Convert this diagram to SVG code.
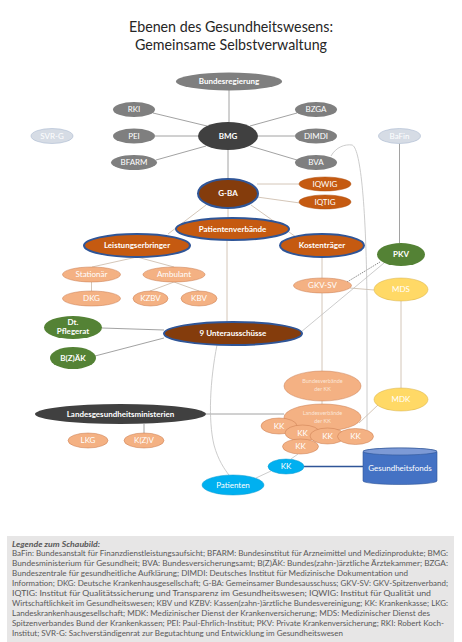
<svg xmlns="http://www.w3.org/2000/svg" width="462" height="642" viewBox="0 0 462 642">
<style>
text{font-family:Lato,"Open Sans","Liberation Sans",sans-serif;}
.t{font-size:8px;fill:#fff;text-anchor:middle;}
.b{font-weight:bold;}
.s{font-size:5.5px;fill:#fbe5d6;text-anchor:middle;}
.gray{fill:#7f7f7f;}
.dark{fill:#404040;}
.lite{fill:#d6dce5;stroke:#a9b8d0;stroke-width:0.6;}
.brown{fill:#843c0c;stroke:#2f5597;stroke-width:2;}
.orB{fill:#c55a11;stroke:#2f5597;stroke-width:2;}
.or{fill:#c55a11;stroke:#ae4f0f;stroke-width:0.5;}
.sal{fill:#f4b183;stroke:#c97a4e;stroke-width:0.5;}
.green{fill:#548235;}
.yel{fill:#ffd966;stroke:#d6b04a;stroke-width:0.5;}
.blue{fill:#00b0f0;stroke:#0a98cf;stroke-width:0.5;}
.cg{stroke:#8a8a8a;stroke-width:0.8;fill:none;}
.ct{stroke:#c9b8a6;stroke-width:0.8;fill:none;}
.cl{stroke:#bfbfbf;stroke-width:0.8;fill:none;}
.leg{font-size:7.6px;fill:#595959;}
</style>
<rect width="462" height="642" fill="#fff"/>
<g id="title">
<text x="231" y="32" font-size="16" text-anchor="middle" fill="#262626" textLength="204" lengthAdjust="spacingAndGlyphs">Ebenen des Gesundheitswesens:</text>
<text x="231" y="50" font-size="16" text-anchor="middle" fill="#262626" textLength="192" lengthAdjust="spacingAndGlyphs">Gemeinsame Selbstverwaltung</text>
</g>
<g id="connectors">
<line class="cg" x1="229" y1="90" x2="229" y2="122"/>
<line class="cg" x1="207" y1="126" x2="153" y2="113"/>
<line class="cg" x1="198" y1="136" x2="155" y2="136"/>
<line class="cg" x1="206" y1="146" x2="156" y2="160"/>
<line class="cg" x1="250" y1="126" x2="297" y2="113"/>
<line class="cg" x1="258" y1="136" x2="295" y2="136"/>
<line class="cg" x1="250" y1="146" x2="297" y2="160"/>
<line class="cg" x1="228" y1="150" x2="228" y2="179"/>
<line class="ct" x1="228" y1="208" x2="228" y2="218"/>
<line class="ct" x1="257" y1="184" x2="299" y2="184"/>
<line class="ct" x1="257" y1="197" x2="300" y2="203"/>
<line class="ct" x1="206" y1="205" x2="168" y2="234"/>
<line class="ct" x1="251" y1="205" x2="296" y2="237"/>
<line class="ct" x1="227" y1="240" x2="227" y2="322"/>
<line class="ct" x1="137" y1="257" x2="92" y2="267"/>
<line class="ct" x1="137" y1="257" x2="174" y2="267"/>
<line class="ct" x1="91.5" y1="282" x2="91.5" y2="291"/>
<line class="ct" x1="174" y1="282" x2="150" y2="291"/>
<line class="ct" x1="174" y1="282" x2="199" y2="291"/>
<line class="ct" x1="322" y1="257" x2="322" y2="278"/>
<line class="ct" x1="322" y1="293" x2="322" y2="371"/>
<line class="ct" x1="322" y1="401" x2="322" y2="404"/>
<line x1="347" y1="282" x2="380" y2="262" stroke="#595959" stroke-width="0.7" stroke-dasharray="1.5,1"/>
<line class="ct" x1="350" y1="288" x2="374" y2="290"/>
<line class="cl" x1="301" y1="332" x2="384" y2="263"/>
<line class="cg" x1="399.5" y1="143.5" x2="399.5" y2="243"/>
<line class="ct" x1="401" y1="301" x2="401" y2="388"/>
<line class="ct" x1="379" y1="404" x2="359" y2="423"/>
<line class="cg" x1="206" y1="414" x2="284" y2="414"/>
<line class="cg" x1="144" y1="424" x2="144" y2="433"/>
<line class="cl" x1="298" y1="454" x2="291" y2="459"/>
<line x1="304" y1="466.5" x2="363" y2="466.5" stroke="#2f5597" stroke-width="1.5"/>
<line class="cl" x1="271" y1="471" x2="256" y2="478"/>
<path class="cl" d="M331,156 C336,147 345,144 352,145 C360,147 366,200 367,300 L367,430"/>
<path class="cl" d="M217,345 C210,380 208,420 214,445 C218,460 225,470 229,475"/>
<line class="cg" x1="102" y1="328" x2="164" y2="330"/>
<line class="cg" x1="95" y1="356" x2="164" y2="338"/>
</g>
<g id="n-bundesregierung"><ellipse class="gray" cx="229" cy="81.5" rx="53" ry="9"/><text class="t b" x="229" y="84.3">Bundesregierung</text></g>
<g id="n-rki"><ellipse class="gray" cx="134" cy="109.5" rx="21" ry="7.5"/><text class="t" x="134" y="112.3">RKI</text></g>
<g id="n-bzga"><ellipse class="gray" cx="316" cy="109.5" rx="21" ry="7.5"/><text class="t" x="316" y="112.3">BZGA</text></g>
<g id="n-pei"><ellipse class="gray" cx="134" cy="136" rx="21" ry="7.5"/><text class="t" x="134" y="138.8">PEI</text></g>
<g id="n-bmg"><ellipse class="dark" cx="228" cy="136" rx="30" ry="14"/><text class="t b" x="228" y="138.8">BMG</text></g>
<g id="n-dimdi"><ellipse class="gray" cx="316" cy="136" rx="21" ry="7.5"/><text class="t" x="316" y="138.8">DIMDI</text></g>
<g id="n-svrg"><ellipse class="lite" cx="52" cy="136" rx="21" ry="7.5"/><text class="t" x="52" y="138.8">SVR-G</text></g>
<g id="n-bafin"><ellipse class="lite" cx="399.5" cy="136" rx="21" ry="7.5"/><text class="t" x="399.5" y="138.8">BaFin</text></g>
<g id="n-bfarm"><ellipse class="gray" cx="134" cy="162.5" rx="23" ry="7.5"/><text class="t" x="134" y="165.3">BFARM</text></g>
<g id="n-bva"><ellipse class="gray" cx="316" cy="162.5" rx="21" ry="7.5"/><text class="t" x="316" y="165.3">BVA</text></g>
<g id="n-gba"><ellipse class="brown" cx="228" cy="193.5" rx="30" ry="14.5"/><text class="t b" x="228" y="196.3">G-BA</text></g>
<g id="n-iqwig"><ellipse class="or" cx="325" cy="184" rx="26" ry="7"/><text class="t" x="325" y="186.8">IQWIG</text></g>
<g id="n-iqtig"><ellipse class="or" cx="325" cy="202" rx="26" ry="7"/><text class="t" x="325" y="204.8">IQTIG</text></g>
<g id="n-patientenverbaende"><ellipse class="orB" cx="232.5" cy="229" rx="56.5" ry="11"/><text class="t b" x="232.5" y="231.8">Patientenverbände</text></g>
<g id="n-leistungserbringer"><ellipse class="orB" cx="137" cy="245.5" rx="53" ry="11.5"/><text class="t b" x="137" y="248.3">Leistungserbringer</text></g>
<g id="n-kostentraeger"><ellipse class="orB" cx="322" cy="245.5" rx="42" ry="11.5"/><text class="t b" x="322" y="248.3">Kostenträger</text></g>
<g id="n-pkv"><ellipse class="green" cx="401" cy="254.5" rx="24" ry="11.5"/><text class="t b" x="401" y="257.3">PKV</text></g>
<g id="n-stationaer"><ellipse class="sal" cx="91.5" cy="274.5" rx="29" ry="7.5"/><text class="t" x="91.5" y="277.3">Stationär</text></g>
<g id="n-ambulant"><ellipse class="sal" cx="174" cy="274.5" rx="31" ry="7.5"/><text class="t" x="174" y="277.3">Ambulant</text></g>
<g id="n-gkvsv"><ellipse class="sal" cx="322.5" cy="285.5" rx="29" ry="7.5"/><text class="t" x="322.5" y="288.3">GKV-SV</text></g>
<g id="n-mds"><ellipse class="yel" cx="401" cy="289.5" rx="27" ry="11.5"/><text class="t" x="401" y="292.3">MDS</text></g>
<g id="n-dkg"><ellipse class="sal" cx="91.5" cy="298.5" rx="29" ry="7.5"/><text class="t" x="91.5" y="301.3">DKG</text></g>
<g id="n-kzbv"><ellipse class="sal" cx="150.5" cy="298.5" rx="17.5" ry="7.5"/><text class="t" x="150.5" y="301.3">KZBV</text></g>
<g id="n-kbv"><ellipse class="sal" cx="199" cy="298.5" rx="18" ry="7.5"/><text class="t" x="199" y="301.3">KBV</text></g>
<g id="n-pflegerat"><ellipse class="green" cx="73" cy="327.5" rx="29" ry="11.5"/><text class="t b" x="73" y="325.3">Dt.</text><text class="t b" x="73" y="334.3">Pflegerat</text></g>
<g id="n-unterausschuesse"><ellipse class="brown" cx="233" cy="333.5" rx="69" ry="11.5"/><text class="t b" x="233" y="336.3">9 Unterausschüsse</text></g>
<g id="n-bzaek"><ellipse class="green" cx="73" cy="358" rx="23" ry="11"/><text class="t b" x="73" y="360.8">B(Z)ÄK</text></g>
<g id="n-bundesverbaende"><ellipse class="sal" cx="322.5" cy="386" rx="38.5" ry="15"/><text class="s" x="322.5" y="383">Bundesverbände</text><text class="s" x="322.5" y="391">der KK</text></g>
<g id="n-mdk"><ellipse class="yel" cx="401" cy="399.5" rx="27" ry="11.5"/><text class="t" x="401" y="402.3">MDK</text></g>
<g id="n-landesministerien"><ellipse class="dark" cx="120.5" cy="414" rx="85.5" ry="10"/><text class="t b" x="120.5" y="416.8">Landesgesundheitsministerien</text></g>
<g id="n-lkg"><ellipse class="sal" cx="88" cy="440.5" rx="20" ry="7.5"/><text class="t" x="88" y="443.3">LKG</text></g>
<g id="n-kzv"><ellipse class="sal" cx="144" cy="440.5" rx="20" ry="7.5"/><text class="t" x="144" y="443.3">K(Z)V</text></g>
<g id="n-landesverbaende"><ellipse class="sal" cx="322.5" cy="417.5" rx="38.5" ry="13.5"/><text class="s" x="322.5" y="415">Landesverbände</text><text class="s" x="322.5" y="423">der KK</text></g>
<g id="n-kk1"><ellipse class="sal" cx="279" cy="426" rx="18" ry="8"/><text class="t" x="279" y="428.8">KK</text></g>
<g id="n-kk2"><ellipse class="sal" cx="302.5" cy="433" rx="17.5" ry="8"/><text class="t" x="302.5" y="435.8">KK</text></g>
<g id="n-kk3"><ellipse class="sal" cx="327.5" cy="436" rx="17.5" ry="8"/><text class="t" x="327.5" y="438.8">KK</text></g>
<g id="n-kk4"><ellipse class="sal" cx="355.5" cy="436.5" rx="18" ry="8"/><text class="t" x="355.5" y="439.3">KK</text></g>
<g id="n-kk5"><ellipse class="sal" cx="300.5" cy="446.5" rx="18" ry="7.5"/><text class="t" x="300.5" y="449.3">KK</text></g>
<g id="n-kk-blue"><ellipse class="blue" cx="286" cy="466.5" rx="18" ry="7.5"/><text class="t" x="286" y="469.3">KK</text></g>
<g id="n-patienten"><ellipse class="blue" cx="233" cy="485" rx="31" ry="10"/><text class="t" x="233" y="487.8">Patienten</text></g>
<g id="n-gesundheitsfonds">
<path d="M363,451.5 V481 A37,3.5 0 0 0 437,481 V451.5 A37,3.5 0 0 0 363,451.5 Z" fill="#4472c4" stroke="#2f5597" stroke-width="0.6"/>
<ellipse cx="400" cy="451.5" rx="37" ry="3.5" fill="#7d9ad6" stroke="#2f5597" stroke-width="0.6"/>
<text class="t" x="400" y="471">Gesundheitsfonds</text>
</g>
<g id="legend">
<rect x="7" y="536" width="447" height="106" fill="#e7e6e6"/>
<text class="leg" x="12" y="546.5" font-weight="bold" font-style="italic" textLength="88" lengthAdjust="spacingAndGlyphs">Legende zum Schaubild:</text>
<text class="leg" x="12" y="556.4" textLength="436" lengthAdjust="spacingAndGlyphs">BaFin: Bundesanstalt für Finanzdienstleistungsaufsicht; BFARM: Bundesinstitut für Arzneimittel und Medizinprodukte; BMG:</text>
<text class="leg" x="12" y="566.3" textLength="436" lengthAdjust="spacingAndGlyphs">Bundesministerium für Gesundheit; BVA: Bundesversicherungsamt; B(Z)ÄK: Bundes(zahn-)ärztliche Ärztekammer; BZGA:</text>
<text class="leg" x="12" y="576.2" textLength="396" lengthAdjust="spacingAndGlyphs">Bundeszentrale für gesundheitliche Aufklärung; DIMDI: Deutsches Institut für Medizinische Dokumentation und</text>
<text class="leg" x="12" y="586.1" textLength="436" lengthAdjust="spacingAndGlyphs">Information; DKG: Deutsche Krankenhausgesellschaft; G-BA: Gemeinsamer Bundesausschuss; GKV-SV: GKV-Spitzenverband;</text>
<text class="leg" x="12" y="596" textLength="419" lengthAdjust="spacingAndGlyphs">IQTIG: Institut für Qualitätssicherung und Transparenz im Gesundheitswesen; IQWIG: Institut für Qualität und</text>
<text class="leg" x="12" y="605.9" textLength="436" lengthAdjust="spacingAndGlyphs">Wirtschaftlichkeit im Gesundheitswesen; KBV und KZBV: Kassen(zahn-)ärztliche Bundesvereinigung; KK: Krankenkasse; LKG:</text>
<text class="leg" x="12" y="615.8" textLength="418" lengthAdjust="spacingAndGlyphs">Landeskrankenhausgesellschaft; MDK: Medizinischer Dienst der Krankenversicherung; MDS: Medizinischer Dienst des</text>
<text class="leg" x="12" y="625.7" textLength="432" lengthAdjust="spacingAndGlyphs">Spitzenverbandes Bund der Krankenkassen; PEI: Paul-Ehrlich-Institut; PKV: Private Krankenversicherung; RKI: Robert Koch-</text>
<text class="leg" x="12" y="635.6" textLength="331" lengthAdjust="spacingAndGlyphs">Institut; SVR-G: Sachverständigenrat zur Begutachtung und Entwicklung im Gesundheitswesen</text>
</g>
</svg>
